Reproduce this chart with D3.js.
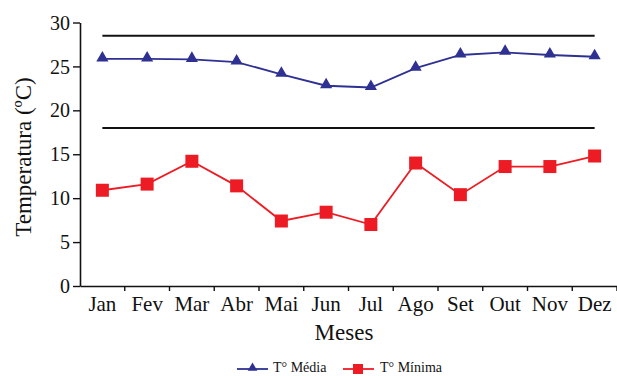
<!DOCTYPE html>
<html>
<head>
<meta charset="utf-8">
<script src="https://cdn.jsdelivr.net/npm/d3@7"></script>
<style>
  body { margin: 0; background: #fff; }
  svg text { font-family: "Liberation Serif", serif; fill: #111; }
</style>
</head>
<body>
<script>
'use strict';

// chart data
const months = ["Jan", "Fev", "Mar", "Abr", "Mai", "Jun", "Jul", "Ago", "Set", "Out", "Nov", "Dez"];
const tempMedia = [25.85, 25.85, 25.8, 25.5, 24.1, 22.8, 22.6, 24.8, 26.3, 26.6, 26.3, 26.1];
const tempMinima = [10.9, 11.6, 14.2, 11.4, 7.4, 8.4, 7.0, 14.0, 10.4, 13.6, 13.6, 14.8];
const refLines = [28.5, 18.0];
const yTicks = [0, 5, 10, 15, 20, 25, 30];

(function () {
  const width = 617, height = 376;
  const blue = "#2e3192", red = "#ed1c24";
  const serif = "Liberation Serif, serif";

  let svg = d3.select('body')
    .append('svg')
    .attr('width', width)
    .attr('height', height);

  // scales
  let xScale = d3.scaleBand()
    .domain(months)
    .range([80, 617]);

  let xMid = function (d) { return xScale(d) + xScale.bandwidth() / 2; };

  let yScale = d3.scaleLinear()
    .domain([0, 30])
    .range([286, 22.5]);

  // x axis
  let xAxis = d3.axisBottom(xScale).tickSize(0).tickSizeOuter(0);
  let gx = svg.append('g')
    .attr('transform', 'translate(0, 286)')
    .call(xAxis)
    .attr('font-family', serif);
  gx.select('.domain').attr('stroke', '#111').attr('stroke-width', 1.6);
  gx.selectAll('text')
    .attr('dy', 0)
    .attr('y', 25)
    .style('font-family', serif)
    .style('font-size', '21px');
  // tick marks at band boundaries
  gx.selectAll('.bnd')
    .data(months)
    .enter()
    .append('line')
    .attr('x1', (d) => xScale(d) + xScale.bandwidth())
    .attr('x2', (d) => xScale(d) + xScale.bandwidth())
    .attr('y1', 0)
    .attr('y2', 5)
    .attr('stroke', '#111')
    .attr('stroke-width', 1.4);

  // y axis
  let yAxis = d3.axisLeft(yScale).tickValues(yTicks).tickSize(7).tickSizeOuter(0);
  let gy = svg.append('g')
    .attr('transform', 'translate(80, 0)')
    .call(yAxis)
    .attr('font-family', serif);
  gy.select('.domain').attr('stroke', '#111').attr('stroke-width', 1.6);
  gy.selectAll('line').attr('stroke', '#111').attr('stroke-width', 1.4);
  gy.selectAll('text')
    .attr('x', -10)
    .attr('dy', '0.33em')
    .style('font-family', serif)
    .style('font-size', '20px');

  // horizontal reference lines
  svg.selectAll('.ref')
    .data(refLines)
    .enter()
    .append('line')
    .attr('x1', xMid(months[0]))
    .attr('x2', xMid(months[months.length - 1]))
    .attr('y1', (d) => yScale(d))
    .attr('y2', (d) => yScale(d))
    .attr('stroke', '#111')
    .attr('stroke-width', 2);

  let line = d3.line()
    .x((d, i) => xMid(months[i]))
    .y((d) => yScale(d));

  // media series
  svg.append('path')
    .datum(tempMedia)
    .attr('fill', 'none')
    .attr('stroke', blue)
    .attr('stroke-width', 1.8)
    .attr('d', line);

  let tri = d3.symbol().type(d3.symbolTriangle).size(64);
  svg.selectAll('.tri')
    .data(tempMedia)
    .enter()
    .append('path')
    .attr('d', tri)
    .attr('transform', (d, i) => 'translate(' + xMid(months[i]) + ',' + (yScale(d) - 1) + ')')
    .attr('fill', blue);

  // minima series
  svg.append('path')
    .datum(tempMinima)
    .attr('fill', 'none')
    .attr('stroke', red)
    .attr('stroke-width', 1.8)
    .attr('d', line);

  svg.selectAll('.sq')
    .data(tempMinima)
    .enter()
    .append('rect')
    .attr('x', (d, i) => xMid(months[i]) - 6.5)
    .attr('y', (d) => yScale(d) - 6.5)
    .attr('width', 13)
    .attr('height', 13)
    .attr('fill', red);

  // axis titles
  svg.append('text')
    .attr('x', 344)
    .attr('y', 340)
    .attr('text-anchor', 'middle')
    .style('font-family', serif)
    .style('font-size', '23px')
    .text('Meses');

  svg.append('text')
    .attr('transform', 'translate(31, 157)rotate(-90)')
    .attr('text-anchor', 'middle')
    .style('font-family', serif)
    .style('font-size', '23px')
    .text('Temperatura (ºC)');

  // legend
  let legend = svg.append('g');
  legend.append('line')
    .attr('x1', 237).attr('x2', 268)
    .attr('y1', 369).attr('y2', 369)
    .attr('stroke', blue).attr('stroke-width', 1.8);
  legend.append('path')
    .attr('d', d3.symbol().type(d3.symbolTriangle).size(40))
    .attr('transform', 'translate(252.5, 368)')
    .attr('fill', blue);
  legend.append('text')
    .attr('x', 273).attr('y', 372)
    .style('font-family', serif)
    .style('font-size', '14px')
    .text('T° Média');

  legend.append('line')
    .attr('x1', 343).attr('x2', 374)
    .attr('y1', 369).attr('y2', 369)
    .attr('stroke', red).attr('stroke-width', 1.8);
  legend.append('rect')
    .attr('x', 353).attr('y', 364)
    .attr('width', 10).attr('height', 10)
    .attr('fill', red);
  legend.append('text')
    .attr('x', 380).attr('y', 372)
    .style('font-family', serif)
    .style('font-size', '14px')
    .text('T° Mínima');
})();
</script>
</body>
</html>
